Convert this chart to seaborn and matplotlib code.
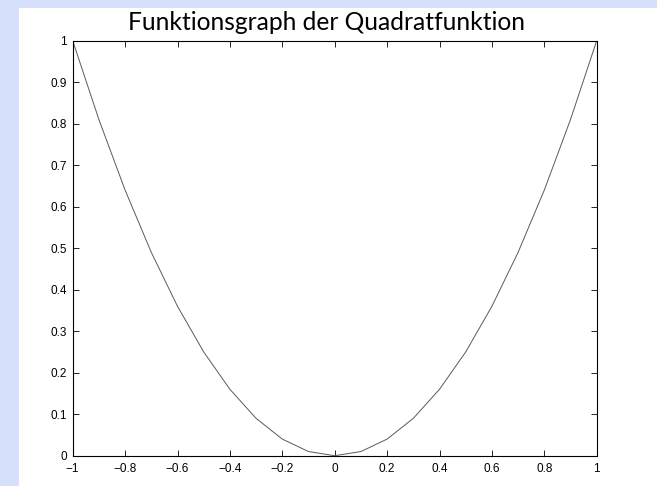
import matplotlib
matplotlib.use("Agg")
import matplotlib.pyplot as plt
import numpy as np
import pandas as pd
import seaborn as sns
from matplotlib.patches import Rectangle

x_vals = [-1.0, -0.9, -0.8, -0.7, -0.6, -0.5, -0.4, -0.3, -0.2, -0.1, 0.0,
          0.1, 0.2, 0.3, 0.4, 0.5, 0.6, 0.7, 0.8, 0.9, 1.0]
y_vals = [1.0, 0.81, 0.64, 0.49, 0.36, 0.25, 0.16, 0.09, 0.04, 0.01, 0.0,
          0.01, 0.04, 0.09, 0.16, 0.25, 0.36, 0.49, 0.64, 0.81, 1.0]
x_ticks = [-1, -0.8, -0.6, -0.4, -0.2, 0, 0.2, 0.4, 0.6, 0.8, 1]
y_ticks = [0, 0.1, 0.2, 0.3, 0.4, 0.5, 0.6, 0.7, 0.8, 0.9, 1]
title = "Funktionsgraph der Quadratfunktion"

sns.set_style("ticks")
plt.rcParams['font.family'] = ['Liberation Sans', 'DejaVu Sans']

W, H = 657, 486
fig = plt.figure(figsize=(W / 100, H / 100), dpi=100)
fig.patch.set_facecolor('white')

# light blue slide border (left and top)
blue = '#d6e0fb'
fig.patches.append(Rectangle((0, 0), 19 / W, 1, transform=fig.transFigure,
                             facecolor=blue, edgecolor='none', zorder=0))
fig.patches.append(Rectangle((0, 1 - 8 / H), 1, 8 / H, transform=fig.transFigure,
                             facecolor=blue, edgecolor='none', zorder=0))

ax = fig.add_axes([72.7 / W, 1 - 455.7 / H, (596.7 - 72.7) / W, (455.7 - 40.7) / H])
df = pd.DataFrame({'x': x_vals, 'y': y_vals})
sns.lineplot(data=df, x='x', y='y', ax=ax, color='#5a5a5a', linewidth=0.7)

ax.set_xlim(-1, 1)
ax.set_ylim(0, 1)
ax.set_xticks(x_ticks)
ax.set_yticks(y_ticks)
ax.set_xticklabels(['%g' % v if v >= 0 else '\u2212%g' % -v for v in x_ticks])
ax.set_yticklabels(['%g' % v for v in y_ticks])
ax.set_xlabel('')
ax.set_ylabel('')
ax.tick_params(direction='in', length=4.3, width=0.6, top=True, right=True,
               labelsize=8.5, colors='black')
ax.tick_params(axis='x', pad=5.5)
ax.tick_params(axis='y', pad=4)
for s in ax.spines.values():
    s.set_linewidth(0.8)
    s.set_color('black')

fig.text(326 / W, 1 - 22 / H, title, ha='center', va='center',
         fontsize=17.7, family=['Lato', 'DejaVu Sans'], color='black')

fig.savefig('out.png', dpi=100)
